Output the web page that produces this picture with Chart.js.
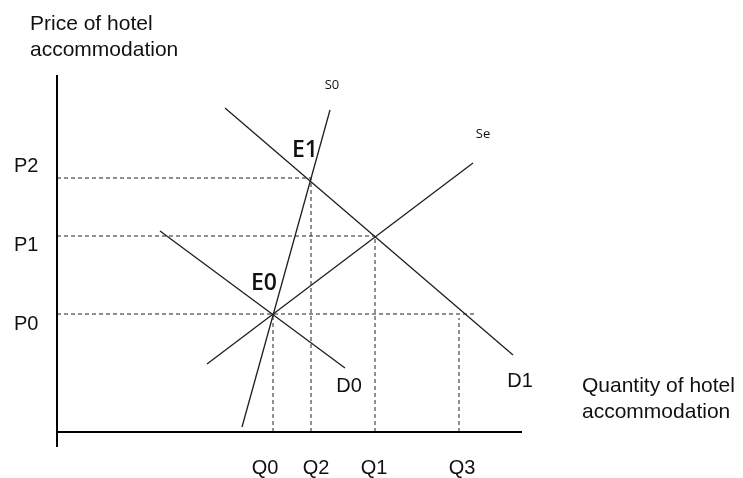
<!DOCTYPE html>
<html>
<head>
<meta charset="utf-8">
<script src="https://cdn.jsdelivr.net/npm/chart.js@4/dist/chart.umd.min.js"></script>
<style>
  html, body { margin: 0; padding: 0; background: #fff; }
  #wrap { width: 743px; height: 478px; position: relative; }
</style>
</head>
<body>
<div id="wrap"><canvas id="myChart"></canvas></div>
<script>
// quantity / price levels (chart units)
const qValues = [216, 254, 318, 402];
const qNames = ['Q0', 'Q2', 'Q1', 'Q3'];
const pValues = [118, 196, 254];
const pNames = ['P0', 'P1', 'P2'];

// curves: [x, y] end points
const s0Curve = [[185, 5], [273, 322]];
const seCurve = [[150, 68], [416, 269]];
const d0Curve = [[103, 201], [288, 64]];
const d1Curve = [[168, 324], [456, 77]];

// dashed guides
const pGuideEnds = [417, 318, 254];     // x where each price line stops
const qGuideTops = [118, 254, 196, 114]; // y where each quantity line stops

const xMax = 465, yMax = 357;

function pts(arr) {
  return arr.map(p => ({ x: p[0], y: p[1] }));
}

const lineStyle = { showLine: true, pointRadius: 0, borderColor: '#1e1e1e', borderWidth: 1.3, fill: false };
const dashStyle = { showLine: true, pointRadius: 0, borderColor: '#222', borderWidth: 1, borderDash: [4, 3], fill: false };

const datasets = [];
// axes
datasets.push(Object.assign({}, lineStyle, { data: pts([[0, -15], [0, yMax]]), borderColor: '#000', borderWidth: 2, clip: false }));
datasets.push(Object.assign({}, lineStyle, { data: pts([[0, 0], [xMax, 0]]), borderColor: '#000', borderWidth: 2, clip: false }));
// price guides
pValues.forEach((v, i) => {
  datasets.push(Object.assign({}, dashStyle, { data: pts([[0, v], [pGuideEnds[i], v]]) }));
});
// quantity guides
qValues.forEach((v, i) => {
  datasets.push(Object.assign({}, dashStyle, { data: pts([[v, 0], [v, qGuideTops[i]]]) }));
});
// supply & demand
[s0Curve, seCurve, d0Curve, d1Curve].forEach(c => {
  datasets.push(Object.assign({}, lineStyle, { data: pts(c) }));
});

// text labels in chart units
const curveLabels = [
  { t: 'S0', x: 275, y: 347, font: '13px "Open Sans"' },
  { t: 'Se', x: 426, y: 298, font: '13px "Open Sans"' },
  { t: 'E1', x: 248, y: 282, font: '600 23px "Open Sans"' },
  { t: 'E0', x: 207, y: 149, font: '600 23px "Open Sans"' },
  { t: 'D0', x: 292, y: 46, font: '20px "Liberation Sans"' },
  { t: 'D1', x: 463, y: 51, font: '20px "Liberation Sans"' }
];
const pLabelOffsets = [-10, -9, 12];  // label y minus line y
const qLabelOffsets = [-8, 5, -1, 3];

const textPlugin = {
  id: 'texts',
  afterDraw(chart) {
    const ctx = chart.ctx;
    const xs = chart.scales.x, ys = chart.scales.y;
    ctx.save();
    ctx.fillStyle = '#111';
    ctx.textBaseline = 'middle';
    ctx.textAlign = 'center';
    curveLabels.forEach(l => {
      ctx.font = l.font;
      ctx.fillText(l.t, xs.getPixelForValue(l.x), ys.getPixelForValue(l.y));
    });
    ctx.font = '20px "Liberation Sans"';
    qValues.forEach((v, i) => {
      ctx.fillText(qNames[i], xs.getPixelForValue(v) + qLabelOffsets[i], ys.getPixelForValue(0) + 36);
    });
    ctx.textAlign = 'left';
    pValues.forEach((v, i) => {
      ctx.fillText(pNames[i], 14, ys.getPixelForValue(v + pLabelOffsets[i]));
    });
    ctx.font = '21px "Liberation Sans"';
    ctx.fillText('Price of hotel', 30, 24);
    ctx.fillText('accommodation', 30, 50);
    const right = xs.getPixelForValue(xMax) + 60;
    const base = ys.getPixelForValue(0);
    ctx.fillText('Quantity of hotel', right, base - 46);
    ctx.fillText('accommodation', right, base - 20);
    ctx.restore();
  }
};

new Chart(document.getElementById('myChart').getContext('2d'), {
  type: 'scatter',
  data: { datasets: datasets },
  options: {
    responsive: true,
    maintainAspectRatio: false,
    animation: false,
    layout: { padding: { left: 57, right: 221, top: 75, bottom: 46 } },
    scales: {
      x: { type: 'linear', min: 0, max: xMax, display: false },
      y: { type: 'linear', min: 0, max: yMax, display: false }
    },
    plugins: { legend: { display: false }, tooltip: { enabled: false } }
  },
  plugins: [textPlugin]
});
</script>
</body>
</html>
